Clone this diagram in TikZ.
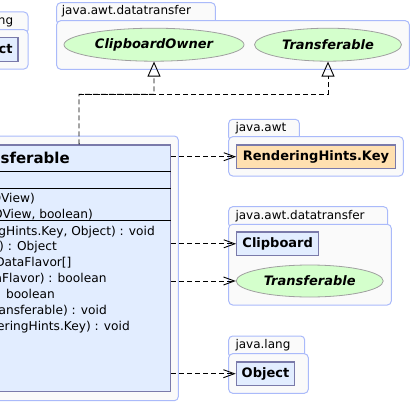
\documentclass[tikz,border=0pt]{standalone}
\usepackage{fontspec}
\setmainfont{DejaVu Sans}
\usepackage{tikz}
\usetikzlibrary{arrows.meta,positioning,shapes,calc}
\definecolor{pkgfill}{RGB}{250,250,250}
\definecolor{pkgline}{RGB}{170,186,250}
\definecolor{clsfill}{RGB}{226,237,255}
\definecolor{clsline}{RGB}{122,122,170}
\definecolor{ifcfill}{RGB}{212,255,204}
\definecolor{ifcline}{RGB}{160,160,160}
\definecolor{keyfill}{RGB}{255,224,176}
\tikzset{
  pkgbox/.style  ={draw=pkgline, fill=pkgfill, line width=1pt, rounded corners=4pt},
  pkglabel/.style={anchor=base west, inner sep=0pt, font=\fontsize{12}{14}\selectfont},
  clsbox/.style  ={draw=clsline, fill=clsfill, line width=1.2pt, minimum width=#1,
                   minimum height=23.5pt, inner sep=0pt,
                   font=\fontsize{13}{15}\selectfont\bfseries},
  clsbox/.default=58.4pt,
  keybox/.style  ={clsbox=158.6pt, fill=keyfill},
  ifcnode/.style ={ellipse, draw=ifcline, fill=ifcfill, line width=0.8pt,
                   minimum width=#1, minimum height=33pt, inner sep=0pt,
                   font=\fontsize{13}{15}\selectfont\bfseries\itshape},
  member/.style  ={anchor=base east, inner sep=0pt, font=\fontsize{12.2}{14}\selectfont},
  sepline/.style ={line width=1pt},
  dep/.style     ={-{Straight Barb[length=11pt,width=8pt]}, dash pattern=on 5pt off 3pt,
                   line width=0.9pt},
  real/.style    ={-{Triangle[open,length=15pt,width=13pt]}, dash pattern=on 5pt off 3pt,
                   line width=0.9pt},
}

\begin{document}
\begin{tikzpicture}[x=1pt,y=-1pt]
  \useasboundingbox (0,0) rectangle (412,404);
  % packages
  \draw[pkgbox] (-52,12) rectangle (28,34);
  \draw[pkgbox] (-52,29.7) rectangle (28,69);
  \node[pkglabel, anchor=base east] (lang1) at (13.3,24.3) {java.lang};
  \node[clsbox] (obj1) at (-11.2,49.5) {Object};

  \draw[pkgbox] (56.7,2.7) rectangle (215.3,25);
  \draw[pkgbox] (56.7,20.7) rectangle (409.3,69.3);
  \node[pkglabel] (dt1) at (61.7,15) {java.awt.datatransfer};
  \node[ifcnode=180pt] (owner) at (154,44.7) {ClipboardOwner};
  \node[ifcnode=147pt] (tr1) at (328,44.7) {Transferable};

  \draw[pkgbox] (228.7,119.3) rectangle (299.3,141);
  \draw[pkgbox] (228.7,136.7) rectangle (403.3,176);
  \node[pkglabel] (awt) at (235.3,131.6) {java.awt};
  \node[keybox] (key) at (316,156.7) {RenderingHints.Key};

  \draw[pkgbox] (228.7,206.7) rectangle (387.7,228);
  \draw[pkgbox] (228.7,224.3) rectangle (391.3,305);
  \node[pkglabel] (dt2) at (235.3,219) {java.awt.datatransfer};
  \node[clsbox=82pt] (clip) at (277.7,243.8) {Clipboard};
  \node[ifcnode=147pt, minimum height=32pt] (tr2) at (309.7,281) {Transferable};

  \draw[pkgbox] (228.7,336) rectangle (304.7,358);
  \draw[pkgbox] (228.7,353.7) rectangle (308.3,393.3);
  \node[pkglabel] (lang2) at (235.3,348.3) {java.lang};
  \node[clsbox] (obj2) at (265.5,373.7) {Object};

  % main class
  \draw[pkgbox] (-28,136) rectangle (178.3,400.7);
  \node[clsbox, line width=1.3pt, minimum width=183.3pt, minimum height=246.7pt] (cls) at (79.05,268.35) {};
  \draw[sepline] (-12.6,171.7) -- (170.7,171.7);
  \draw[sepline] (-12.6,188.3) -- (170.7,188.3);
  \draw[sepline] (-12.6,220.7) -- (170.7,220.7);
  \node[member, font=\fontsize{15}{17}\selectfont\bfseries] (title) at (70,163.7) {sferable};
  \node[member] (m1) at (35,202.7) {OView)};
  \node[member] (m2) at (93,218.7) {OView, boolean)};
  \node[member] (m3) at (155,235.1) {gHints.Key, Object) : void};
  \node[member] (m4) at (57,250.9) {r) : Object};
  \node[member] (m5) at (71.7,266.7) {DataFlavor[]};
  \node[member] (m6) at (106.7,282.5) {aFlavor) : boolean};
  \node[member] (m7) at (55,298.5) {boolean};
  \node[member] (m8) at (107,314.5) {ansferable) : void};
  \node[member] (m9) at (130,330.7) {eringHints.Key) : void};

  % connectors
  \coordinate (fork) at (79,94.3);
  \draw[real] (cls.north) -- (fork) -| (owner.south);
  \draw[real] (fork) -| (tr1.south);
  \draw[dep] (cls.east |- key.west) -- (key.west);
  \draw[dep] (cls.east |- clip.west) -- (clip.west);
  \draw[dep] (cls.east |- tr2.west) -- (tr2.west);
  \draw[dep] (cls.east |- obj2.west) -- (obj2.west);
\end{tikzpicture}
\end{document}
